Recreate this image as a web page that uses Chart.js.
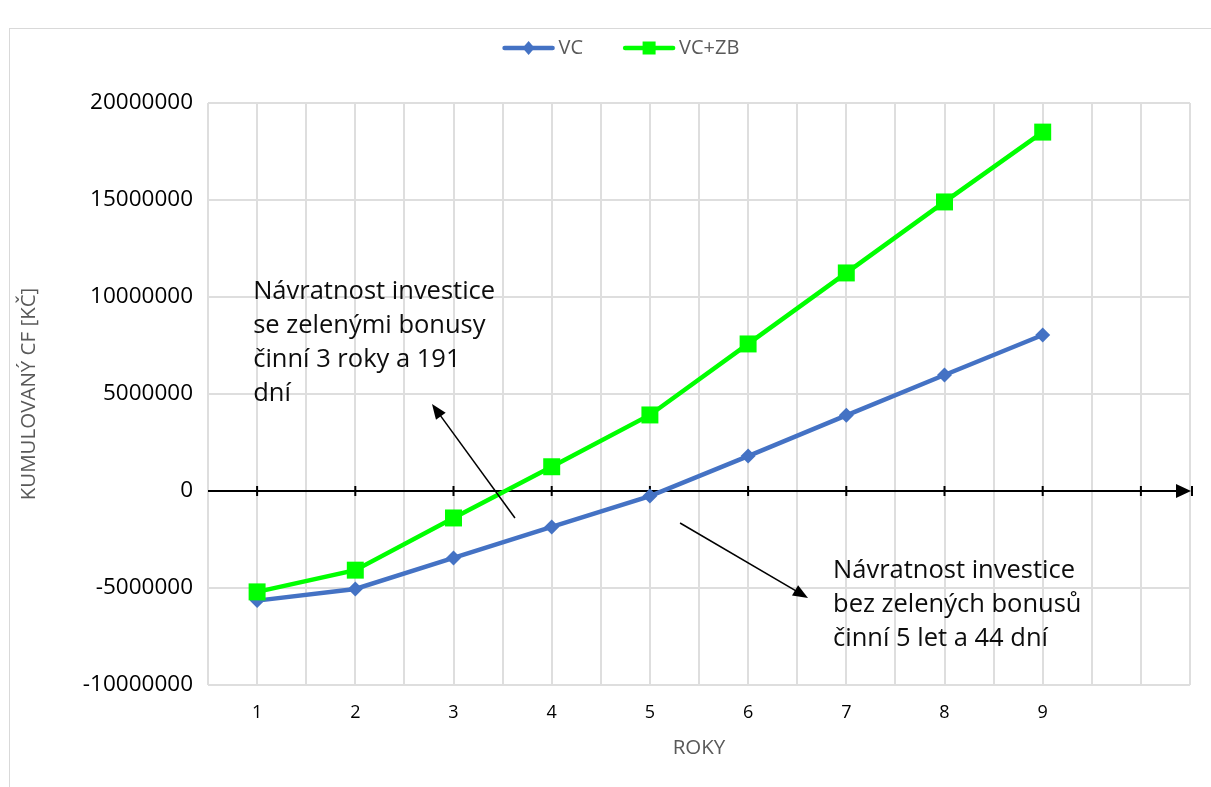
<!DOCTYPE html>
<html>
<head>
<meta charset="utf-8">
<script src="https://cdn.jsdelivr.net/npm/chart.js@4/dist/chart.umd.min.js"></script>
<style>
  html, body { margin: 0; padding: 0; background: #fff; overflow: hidden; }
  #frame { position: absolute; left: 9px; top: 28px; width: 1400px; height: 900px; border: 1.5px solid #d9d9d9; }
  #wrap { position: absolute; left: 0; top: 0; width: 1211px; height: 787px; }
</style>
</head>
<body>
<div id="frame"></div>
<div id="wrap"><canvas id="c" width="1211" height="787"></canvas></div>
<script>
// ---- data ----
const years = [1, 2, 3, 4, 5, 6, 7, 8, 9];
const vc = [-5650000, -5050000, -3450000, -1850000, -260000, 1800000, 3900000, 5980000, 8040000];
const vcZb = [-5200000, -4080000, -1390000, 1250000, 3920000, 7580000, 11240000, 14900000, 18500000];
const seriesNames = ['VC', 'VC+ZB'];
const yTicks = [-10000000, -5000000, 0, 5000000, 10000000, 15000000, 20000000];
const xTitle = 'ROKY';
const yTitle = 'KUMULOVANÝ CF [KČ]';
const note1 = ['Návratnost investice', 'se zelenými bonusy', 'činní 3 roky a 191', 'dní'];
const note2 = ['Návratnost investice', 'bez zelených bonusů', 'činní 5 let a 44 dní'];
// annotation anchors in data units [x, y]
const note1Pos = [0.96, 10260000];
const note2Pos = [6.865, -4120000];
const arrow1 = [[3.626, -1390000], [2.781, 4480000]];
const arrow2 = [[5.307, -1650000], [6.61, -5515000]];

const BLUE = '#4472C4';
const GREEN = '#00FF00';
const FONT = "'Open Sans', 'DejaVu Sans', sans-serif";

function arrowHead(ctx, x1, y1, x2, y2, len, half) {
  const a = Math.atan2(y2 - y1, x2 - x1);
  ctx.beginPath();
  ctx.moveTo(x2, y2);
  ctx.lineTo(x2 - len * Math.cos(a) + half * Math.sin(a), y2 - len * Math.sin(a) - half * Math.cos(a));
  ctx.lineTo(x2 - len * Math.cos(a) - half * Math.sin(a), y2 - len * Math.sin(a) + half * Math.cos(a));
  ctx.closePath();
  ctx.fill();
}

const overlay = {
  id: 'overlay',
  beforeDatasetsDraw(chart) {
    const {ctx, scales: {x, y}, chartArea} = chart;
    const y0 = y.getPixelForValue(0);
    ctx.save();
    ctx.strokeStyle = '#000';
    ctx.fillStyle = '#000';
    ctx.lineWidth = 2;
    ctx.beginPath();
    ctx.moveTo(chartArea.left, y0);
    ctx.lineTo(chartArea.right - 8, y0);
    ctx.stroke();
    for (let v = 1; v <= 10; v++) {
      const px = x.getPixelForValue(v);
      ctx.beginPath();
      ctx.moveTo(px, y0 - 5);
      ctx.lineTo(px, y0 + 5);
      ctx.stroke();
    }
    const xr = chartArea.right;
    ctx.beginPath();
    ctx.moveTo(xr + 2, y0 - 5);
    ctx.lineTo(xr + 2, y0 + 5);
    ctx.stroke();
    arrowHead(ctx, xr - 20, y0, xr + 1, y0, 15, 7);
    ctx.restore();
  },
  afterDatasetsDraw(chart) {
    const {ctx, scales: {x, y}} = chart;
    ctx.save();
    ctx.strokeStyle = '#000';
    ctx.fillStyle = '#000';
    ctx.lineWidth = 1.5;
    [arrow1, arrow2].forEach(ar => {
      const x1 = x.getPixelForValue(ar[0][0]), y1 = y.getPixelForValue(ar[0][1]);
      const x2 = x.getPixelForValue(ar[1][0]), y2 = y.getPixelForValue(ar[1][1]);
      const a = Math.atan2(y2 - y1, x2 - x1);
      ctx.beginPath();
      ctx.moveTo(x1, y1);
      ctx.lineTo(x2 - 10 * Math.cos(a), y2 - 10 * Math.sin(a));
      ctx.stroke();
      arrowHead(ctx, x1, y1, x2, y2, 15, 6);
    });
    ctx.font = '25.5px ' + FONT;
    ctx.fillStyle = '#0d0d0d';
    ctx.textBaseline = 'middle';
    ctx.textAlign = 'left';
    [[note1, note1Pos], [note2, note2Pos]].forEach(([lines, pos]) => {
      const px = x.getPixelForValue(pos[0]);
      const py = y.getPixelForValue(pos[1]);
      lines.forEach((t, i) => ctx.fillText(t, px, py + i * 34));
    });
    ctx.restore();
  },
  afterDraw(chart) {
    const {ctx} = chart;
    const ds = chart.data.datasets.slice().sort((a, b) => a.legendIndex - b.legendIndex);
    ctx.save();
    ctx.font = '20px ' + FONT;
    const lineLen = 52, gap = 4, itemGap = 40;
    let total = 0;
    ds.forEach((d, i) => { total += lineLen + gap + ctx.measureText(d.label).width + (i ? itemGap : 0); });
    let cx = 621 - total / 2;
    const cy = 48;
    ds.forEach((d, i) => {
      if (i) cx += itemGap;
      ctx.strokeStyle = d.borderColor;
      ctx.lineWidth = 4.5;
      ctx.lineCap = 'round';
      ctx.beginPath();
      ctx.moveTo(cx + 2, cy);
      ctx.lineTo(cx + lineLen - 2, cy);
      ctx.stroke();
      ctx.fillStyle = d.borderColor;
      ctx.beginPath();
      if (d.pointStyle === 'rect') {
        ctx.rect(cx + lineLen / 2 - 6.5, cy - 6.5, 13, 13);
      } else {
        ctx.moveTo(cx + lineLen / 2, cy - 7);
        ctx.lineTo(cx + lineLen / 2 + 6, cy);
        ctx.lineTo(cx + lineLen / 2, cy + 7);
        ctx.lineTo(cx + lineLen / 2 - 6, cy);
        ctx.closePath();
      }
      ctx.fill();
      cx += lineLen + gap;
      ctx.fillStyle = '#595959';
      ctx.textBaseline = 'middle';
      ctx.fillText(d.label, cx, cy);
      cx += ctx.measureText(d.label).width;
    });
    ctx.restore();
  }
};

const toPts = arr => years.map((yr, i) => ({x: yr, y: arr[i]}));

new Chart(document.getElementById('c'), {
  type: 'line',
  data: {
    datasets: [
      {
        label: seriesNames[0], legendIndex: 0, order: 1,
        data: toPts(vc),
        borderColor: BLUE, backgroundColor: BLUE,
        borderWidth: 4.5, pointStyle: 'rectRot', pointRadius: 7.5,
        pointBorderWidth: 0, pointBackgroundColor: BLUE, tension: 0
      },
      {
        label: seriesNames[1], legendIndex: 1, order: 0,
        data: toPts(vcZb),
        borderColor: GREEN, backgroundColor: GREEN,
        borderWidth: 4.5, pointStyle: 'rect', pointRadius: 12,
        pointBorderWidth: 0, pointBackgroundColor: GREEN, tension: 0
      }
    ]
  },
  options: {
    responsive: false,
    animation: false,
    devicePixelRatio: 1,
    layout: { padding: { left: 0, right: 21, top: 103, bottom: 0 } },
    plugins: { legend: { display: false }, tooltip: { enabled: false } },
    scales: {
      x: {
        type: 'linear', min: 0.5, max: 10.5,
        afterFit(s) { s.height = 102; },
        afterBuildTicks(s) {
          const t = [];
          for (let v = 0.5; v <= 10.5 + 1e-9; v += 0.5) t.push({value: v});
          s.ticks = t;
        },
        grid: { color: '#dedede', lineWidth: 2, drawTicks: false },
        border: { display: false },
        ticks: {
          autoSkip: false, maxRotation: 0, padding: 17,
          color: '#000', font: { family: FONT, size: 18 },
          callback: v => (years.includes(v) ? String(v) : '')
        },
        title: { display: true, text: xTitle, color: '#595959', font: { family: FONT, size: 20.5 }, padding: { top: 0, bottom: 27 } }
      },
      y: {
        min: yTicks[0], max: yTicks[yTicks.length - 1],
        afterFit(s) { s.width = 208; },
        afterBuildTicks(s) { s.ticks = yTicks.map(v => ({value: v})); },
        grid: { color: '#dedede', lineWidth: 2, drawTicks: false },
        border: { display: false },
        ticks: { padding: 15, color: '#000', font: { family: FONT, size: 22.5 }, callback: v => String(v) },
        title: { display: true, text: yTitle, color: '#595959', font: { family: FONT, size: 20.5 }, padding: { top: 17, bottom: 0 } }
      }
    }
  },
  plugins: [overlay]
});
</script>
</body>
</html>
